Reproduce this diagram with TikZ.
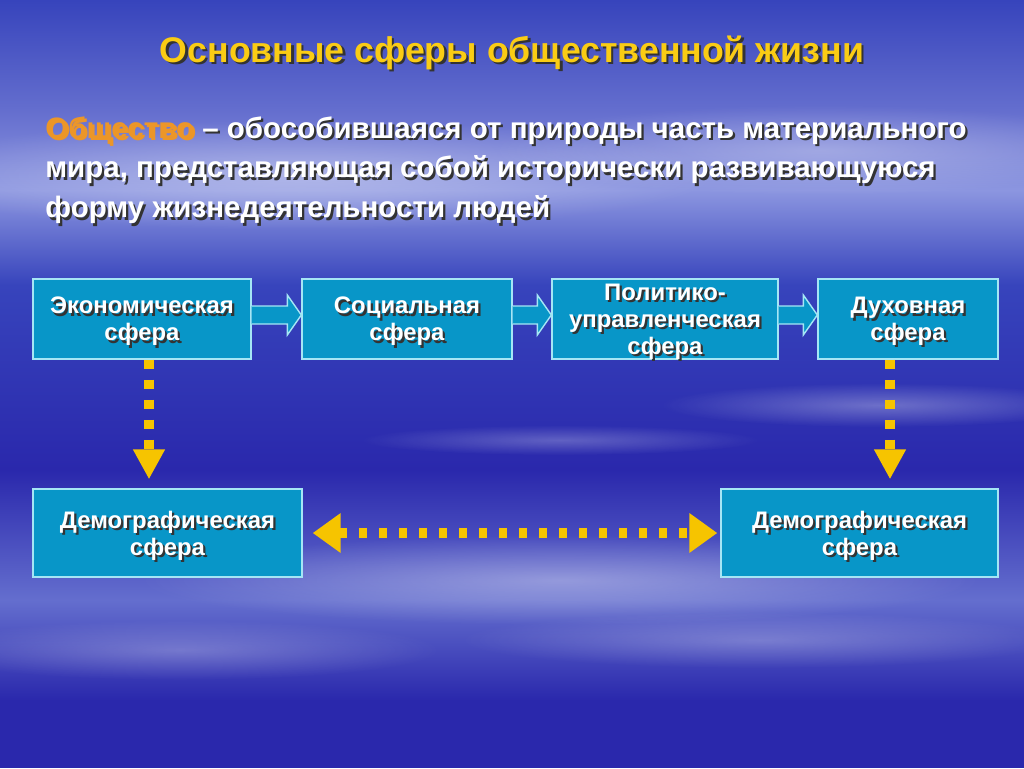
\documentclass[tikz,border=0pt]{standalone}
\usepackage{fontspec}
\setmainfont{Liberation Sans}
\usetikzlibrary{arrows.meta,calc,fadings}

\definecolor{skytop}{RGB}{55,68,188}
\definecolor{skylight}{RGB}{140,150,224}
\definecolor{skydark}{RGB}{42,40,172}
\definecolor{skymid}{RGB}{100,110,206}
\definecolor{boxblue}{RGB}{8,150,200}
\definecolor{boxline}{RGB}{165,230,245}
\definecolor{sunyellow}{RGB}{246,196,0}
\definecolor{titleyellow}{RGB}{250,204,20}
\definecolor{termorange}{RGB}{236,150,40}

\tikzfading[name=softcloud, inner color=transparent!0, outer color=transparent!100]

% text with a dark drop shadow
\newcommand{\shd}[1]{\rlap{\kern0.045cm\smash{\raisebox{-0.045cm}{\textcolor{black!80}{#1}}}}#1}

\tikzset{
  sphere/.style={draw=boxline, line width=0.8pt, fill=boxblue, text=white,
    font=\fontsize{13.6pt}{15.3pt}\selectfont\bfseries, align=center,
    inner sep=0pt, text depth=0pt, minimum height=1.6cm},
  flowarrow/.style={draw=boxline, line width=0.8pt, fill=boxblue},
  dotarrow/.style={draw=sunyellow, line width=0.2cm, dash pattern=on 0.19cm off 0.21cm,
    -{Triangle[width=0.6cm,length=0.6cm]}},
  cloud/.style={white, path fading=softcloud}
}

\begin{document}
\begin{tikzpicture}[x=0.02cm, y=-0.02cm]
  \useasboundingbox (0,0) rectangle (1024,768);

  % sky background
  \shade[top color=skytop, bottom color=skymid] (0,0) rectangle (1024,110);
  \shade[top color=skymid, bottom color=skylight] (0,110) rectangle (1024,190);
  \shade[top color=skylight, bottom color=skytop] (0,190) rectangle (1024,285);
  \shade[top color=skytop, bottom color=skydark] (0,285) rectangle (1024,470);
  \shade[top color=skydark, bottom color=skymid] (0,470) rectangle (1024,600);
  \shade[top color=skymid, bottom color=skydark] (0,600) rectangle (1024,700);
  \fill[skydark] (0,700) rectangle (1024,768);
  \fill[cloud, opacity=0.35] (300,175) ellipse (420 and 55);
  \fill[cloud, opacity=0.3] (820,150) ellipse (330 and 45);
  \fill[cloud, opacity=0.3] (880,405) ellipse (220 and 22);
  \fill[cloud, opacity=0.25] (560,440) ellipse (200 and 15);
  \fill[cloud, opacity=0.35] (560,580) ellipse (420 and 45);
  \fill[cloud, opacity=0.25] (180,650) ellipse (260 and 30);
  \fill[cloud, opacity=0.25] (760,640) ellipse (300 and 28);

  % heading and definition
  \node[text=titleyellow, font=\fontsize{20.3pt}{23pt}\selectfont\bfseries] (title) at (512,53)
    {\shd{Основные сферы общественной жизни}};
  \node[anchor=north west, text=white, align=left, inner sep=0pt,
        font=\fontsize{16.8pt}{22.7pt}\selectfont\bfseries] (definition) at (45,116)
    {\shd{\textcolor{termorange}{Общество}} \shd{– обособившаяся от природы часть материального}\\
     \shd{мира, представляющая собой исторически развивающуюся}\\
     \shd{форму жизнедеятельности людей}};

  % spheres
  \node[sphere, minimum width=4.36cm] (econ) at (142,319) {\shd{Экономическая}\\\shd{сфера}};
  \node[sphere, minimum width=4.2cm] (social) at (407,319) {\shd{Социальная}\\\shd{сфера}};
  \node[sphere, minimum width=4.52cm] (polit) at (665,319) {\shd{Политико-}\\\shd{управленческая}\\\shd{сфера}};
  \node[sphere, minimum width=3.6cm] (spirit) at (908,319) {\shd{Духовная}\\\shd{сфера}};
  \node[sphere, minimum width=5.38cm, minimum height=1.76cm] (demoL) at (167.5,533) {\shd{Демографическая}\\\shd{сфера}};
  \node[sphere, minimum width=5.54cm, minimum height=1.76cm] (demoR) at (859.5,533) {\shd{Демографическая}\\\shd{сфера}};

  % block arrows
  \foreach \from/\to in {econ/social, social/polit, polit/spirit} {
    \draw[flowarrow] ($(\from.east)+(0,-13)$) -- ($(\to.west)+(-14,-13)$) -- ($(\to.west)+(-14,-24)$)
      -- ($(\to.west)+(0,-4)$) -- ($(\to.west)+(-14,16)$) -- ($(\to.west)+(-14,5)$) -- ($(\from.east)+(0,5)$);
  }

  % dotted links
  \draw[dotarrow, shorten >=0.18cm] ([xshift=0.14cm]econ.south) -- ([xshift=0.14cm]econ.south |- demoL.north);
  \draw[dotarrow, shorten >=0.18cm] ([xshift=-0.36cm]spirit.south) -- ([xshift=-0.36cm]spirit.south |- demoR.north);
  \draw[dotarrow, dash pattern=on 0.17cm off 0.23cm,
        {Triangle[width=0.76cm,length=0.56cm]}-{Triangle[width=0.76cm,length=0.56cm]},
        shorten <=0.2cm, shorten >=0.06cm] (demoL.east) -- (demoR.west);
\end{tikzpicture}
\end{document}
